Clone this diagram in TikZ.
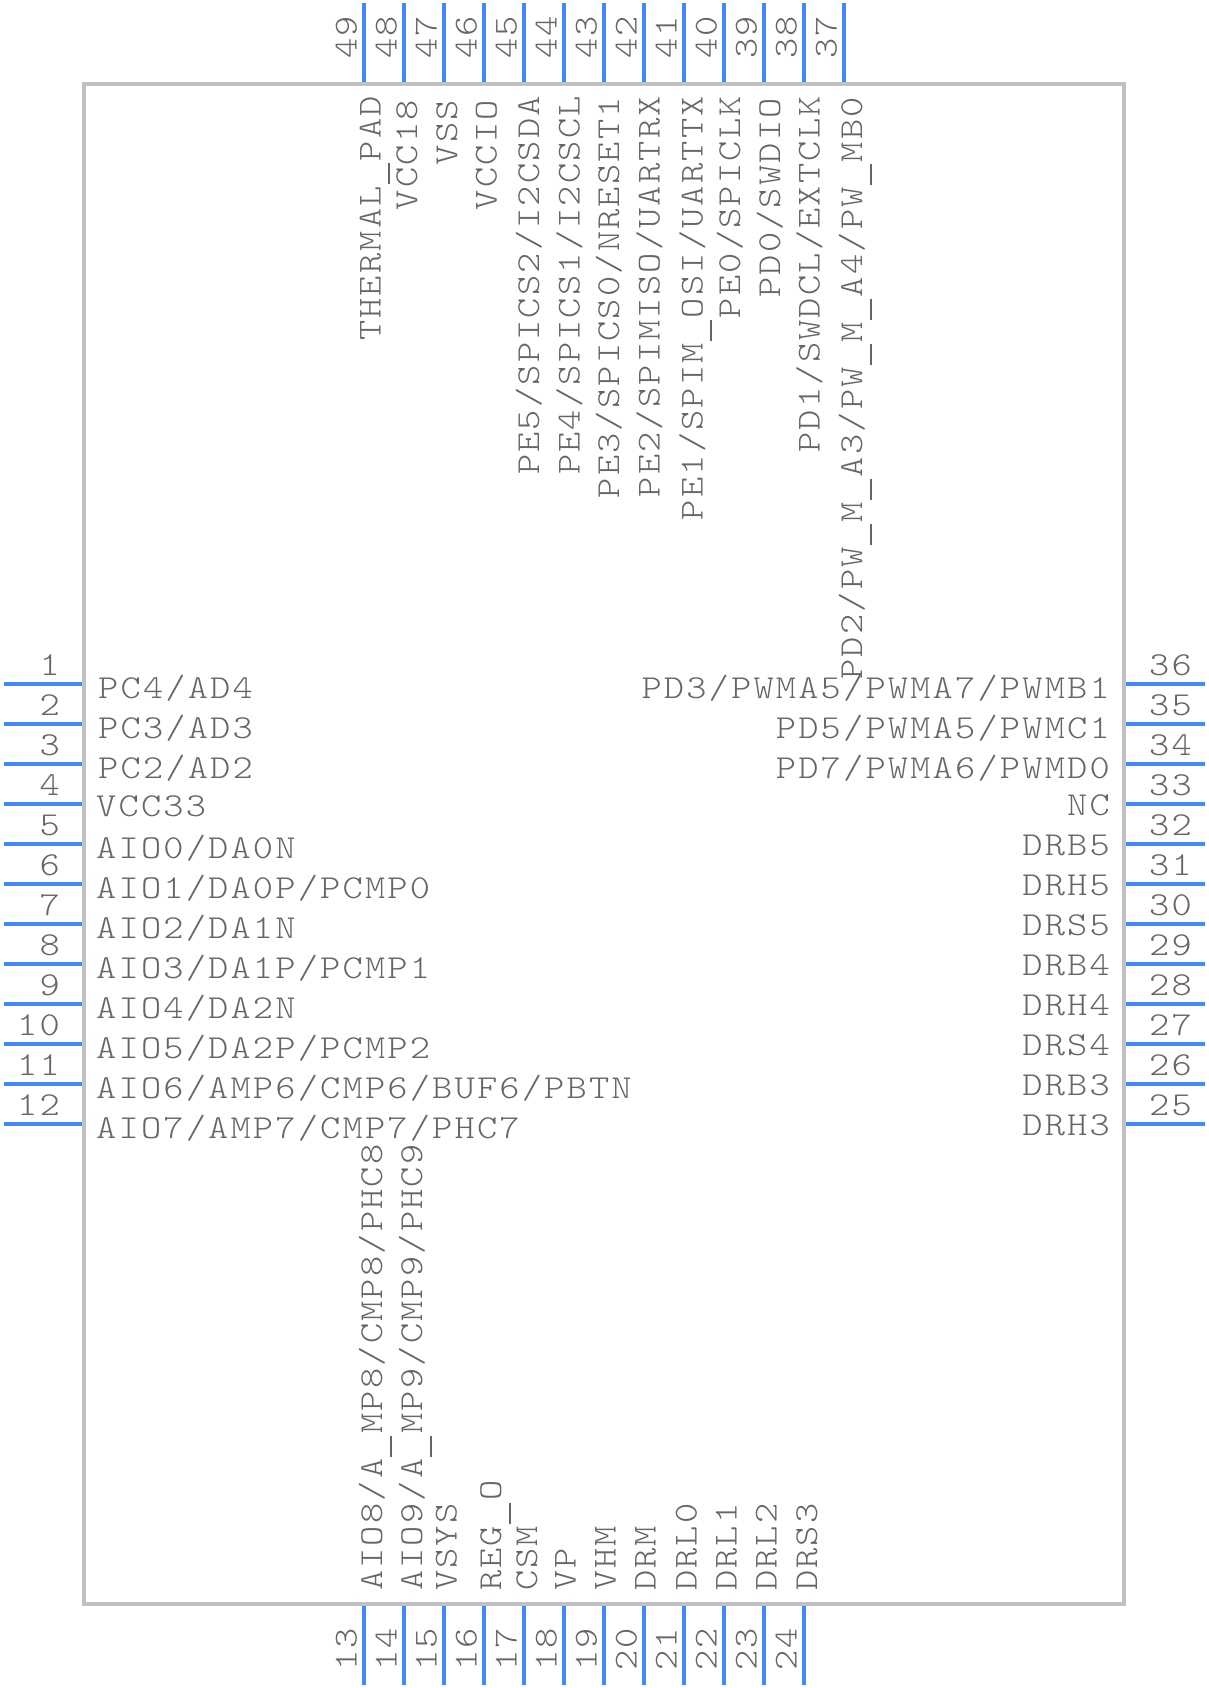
\documentclass[tikz,border=0pt]{standalone}
\usepackage{fontspec}
\newfontfamily\pinfont[FakeStretch=1.15,LetterSpace=6.5]{Latin Modern Mono Light}
\newcommand{\pinus}{\makebox[25pt][c]{\rule[-9.5pt]{21pt}{1.7pt}}}
\definecolor{pinblue}{HTML}{4488FF}
\definecolor{bodygray}{HTML}{C0C0C0}
\definecolor{textgray}{HTML}{666666}
\tikzset{
  pinline/.style={draw=pinblue,line width=4pt},
  bodybox/.style={draw=bodygray,line width=4pt},
  lbl/.style={text=textgray,inner sep=0pt,font=\pinfont\fontsize{33.5}{40}\selectfont},
  lw/.style={lbl,anchor=base west},
  le/.style={lbl,anchor=base east},
  uw/.style={lbl,anchor=base west,rotate=90},
  ue/.style={lbl,anchor=base east,rotate=90},
}
\begin{document}
\begin{tikzpicture}[x=1pt,y=-1pt]
\useasboundingbox (0,0) rectangle (1208,1688);
\fill[white] (0,0) rectangle (1208,1688);
% pins
\foreach \n/\v in {1/684,2/724,3/764,4/804,5/844,6/884,7/924,8/964,9/1004,10/1044,11/1084,12/1124}{
  \coordinate (pa\n) at (3.5,\v); \coordinate (pb\n) at (84,\v);
  \draw[pinline] (pa\n) -- (pb\n);
  \node[le] (num\n) at (60,\v-9) {\n};
}
\foreach \n/\v in {36/684,35/724,34/764,33/804,32/844,31/884,30/924,29/964,28/1004,27/1044,26/1084,25/1124}{
  \coordinate (pa\n) at (1124,\v); \coordinate (pb\n) at (1204.5,\v);
  \draw[pinline] (pa\n) -- (pb\n);
  \node[lw] (num\n) at (1149,\v-9) {\n};
}
\foreach \n/\v in {49/364,48/404,47/444,46/484,45/524,44/564,43/604,42/644,41/684,40/724,39/764,38/804,37/844}{
  \coordinate (pa\n) at (\v,3.5); \coordinate (pb\n) at (\v,84);
  \draw[pinline] (pa\n) -- (pb\n);
  \node[uw] (num\n) at (\v-7.5,59) {\n};
}
\foreach \n/\v in {13/364,14/404,15/444,16/484,17/524,18/564,19/604,20/644,21/684,22/724,23/764,24/804}{
  \coordinate (pa\n) at (\v,1604); \coordinate (pb\n) at (\v,1684.5);
  \draw[pinline] (pa\n) -- (pb\n);
  \node[uw] (num\n) at (\v-7.5,1671) {\n};
}
% body
\node[bodybox,minimum width=1040pt,minimum height=1520pt,inner sep=0pt,outer sep=0pt,anchor=north west] (body) at (84,84) {};
% left labels
\node[lw] (l1) at (98,698) {PC4/AD4};
\node[lw] (l2) at (98,738) {PC3/AD3};
\node[lw] (l3) at (98,778) {PC2/AD2};
\node[lw] (l4) at (96,816) {VCC33};
\node[lw] (l5) at (96,858.5) {AIO0/DA0N};
\node[lw] (l6) at (96,898.5) {AIO1/DA0P/PCMP0};
\node[lw] (l7) at (96,938.5) {AIO2/DA1N};
\node[lw] (l8) at (96,978.5) {AIO3/DA1P/PCMP1};
\node[lw] (l9) at (96,1018.5) {AIO4/DA2N};
\node[lw] (l10) at (96,1058.5) {AIO5/DA2P/PCMP2};
\node[lw] (l11) at (96,1098.5) {AIO6/AMP6/CMP6/BUF6/PBTN};
\node[lw] (l12) at (96,1138.5) {AIO7/AMP7/CMP7/PHC7};
% right labels
\node[le] (l36) at (1110,698) {PD3/PWMA5/PWMA7/PWMB1};
\node[le] (l35) at (1110,738) {PD5/PWMA5/PWMC1};
\node[le] (l34) at (1110,778) {PD7/PWMA6/PWMD0};
\node[le] (l33) at (1110,815) {NC};
\node[le] (l32) at (1110,855) {DRB5};
\node[le] (l31) at (1110,895) {DRH5};
\node[le] (l30) at (1110,935) {DRS5};
\node[le] (l29) at (1110,975) {DRB4};
\node[le] (l28) at (1110,1015) {DRH4};
\node[le] (l27) at (1110,1055) {DRS4};
\node[le] (l26) at (1110,1095) {DRB3};
\node[le] (l25) at (1110,1135) {DRH3};
% top labels
\node[ue] (l49) at (380.5,96) {THERMAL\pinus PAD};
\node[ue] (l48) at (417,100) {VCC18};
\node[ue] (l47) at (457,100) {VSS};
\node[ue] (l46) at (496.5,100) {VCCIO};
\node[ue] (l45) at (539,96) {PE5/SPICS2/I2CSDA};
\node[ue] (l44) at (579.5,96) {PE4/SPICS1/I2CSCL};
\node[ue] (l43) at (619,97) {PE3/SPICS0/NRESET1};
\node[ue] (l42) at (659.5,96) {PE2/SPIMISO/UARTRX};
\node[ue] (l41) at (702.5,96) {PE1/SPIM\pinus OSI/UARTTX};
\node[ue] (l40) at (740,96) {PE0/SPICLK};
\node[ue] (l39) at (780,98) {PD0/SWDIO};
\node[ue] (l38) at (819.5,96) {PD1/SWDCL/EXTCLK};
\node[ue] (l37) at (862,97) {PD2/PW\pinus M\pinus A3/PW\pinus M\pinus A4/PW\pinus MB0};
% bottom labels
\node[uw] (l13) at (382,1591) {AIO8/A\pinus MP8/CMP8/PHC8};
\node[uw] (l14) at (422,1591) {AIO9/A\pinus MP9/CMP9/PHC9};
\node[uw] (l15) at (456.5,1591) {VSYS};
\node[uw] (l16) at (501,1591) {REG\pinus O};
\node[uw] (l17) at (537,1591) {CSM};
\node[uw] (l18) at (575.5,1591) {VP};
\node[uw] (l19) at (615.5,1591) {VHM};
\node[uw] (l20) at (655.5,1591) {DRM};
\node[uw] (l21) at (696.5,1591) {DRL0};
\node[uw] (l22) at (736.5,1591) {DRL1};
\node[uw] (l23) at (776.5,1591) {DRL2};
\node[uw] (l24) at (817,1591) {DRS3};
\end{tikzpicture}
\end{document}
